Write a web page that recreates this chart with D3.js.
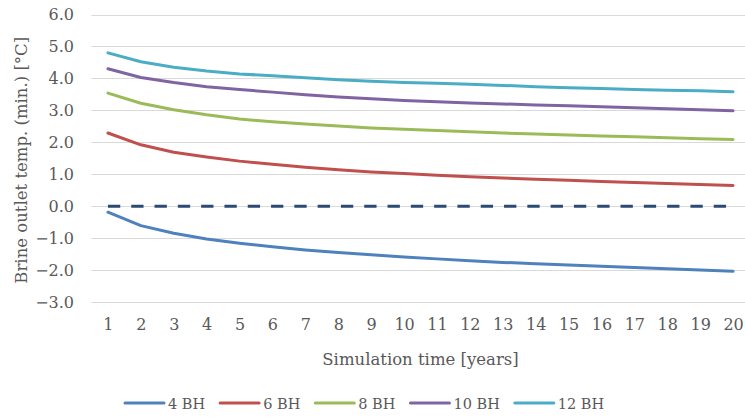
<!DOCTYPE html>
<html>
<head>
<meta charset="utf-8">
<script src="https://cdn.jsdelivr.net/npm/d3@7"></script>
<style>
  html, body { margin: 0; padding: 0; background: #fff; }
  svg { display: block; }
  text { font-family: "DejaVu Serif", "Liberation Serif", serif; fill: #595959; }
</style>
</head>
<body>
<svg id="chart" width="745" height="418"></svg>
<script>
// Simulation years on the category axis
const years = [1, 2, 3, 4, 5, 6, 7, 8, 9, 10, 11, 12, 13, 14, 15, 16, 17, 18, 19, 20];

// Minimum brine outlet temperature [°C] per borehole configuration
const bh4  = [-0.19, -0.61, -0.85, -1.03, -1.16, -1.27, -1.37, -1.45, -1.52, -1.59,
              -1.65, -1.71, -1.76, -1.80, -1.84, -1.88, -1.92, -1.96, -2.00, -2.04];
const bh6  = [2.29, 1.92, 1.69, 1.54, 1.41, 1.31, 1.22, 1.14, 1.07, 1.02,
              0.97, 0.92, 0.88, 0.84, 0.81, 0.77, 0.74, 0.71, 0.68, 0.65];
const bh8  = [3.54, 3.22, 3.02, 2.86, 2.73, 2.64, 2.57, 2.51, 2.45, 2.41,
              2.37, 2.33, 2.29, 2.26, 2.23, 2.20, 2.17, 2.14, 2.11, 2.09];
const bh10 = [4.30, 4.03, 3.87, 3.74, 3.65, 3.57, 3.49, 3.42, 3.36, 3.31,
              3.27, 3.23, 3.20, 3.17, 3.14, 3.11, 3.08, 3.05, 3.02, 2.99];
const bh12 = [4.80, 4.52, 4.35, 4.23, 4.14, 4.08, 4.02, 3.96, 3.91, 3.87,
              3.85, 3.82, 3.78, 3.74, 3.71, 3.68, 3.65, 3.63, 3.61, 3.58];
// Freezing reference line
const freezing = [0, 0, 0, 0, 0, 0, 0, 0, 0, 0, 0, 0, 0, 0, 0, 0, 0, 0, 0, 0];

const seriesNames  = ["4 BH", "6 BH", "8 BH", "10 BH", "12 BH"];
const seriesValues = [bh4, bh6, bh8, bh10, bh12];
const seriesColors = ["#4F81BD", "#C0504D", "#9BBB59", "#8064A2", "#4BACC6"];

const yTicks = [-3, -2, -1, 0, 1, 2, 3, 4, 5, 6];

const svg = d3.select("#chart");
const plot = { left: 91.5, right: 749.5, top: 14.5, bottom: 302 };

const x = d3.scalePoint().domain(years).range([plot.left, plot.right]).padding(0.5);
const y = d3.scaleLinear().domain([-3, 6]).range([plot.bottom, plot.top]);

// Horizontal gridlines
svg.append("g")
  .selectAll("line")
  .data(yTicks)
  .join("line")
  .attr("x1", plot.left)
  .attr("x2", plot.right)
  .attr("y1", d => Math.round(y(d)) + 0.5)
  .attr("y2", d => Math.round(y(d)) + 0.5)
  .attr("stroke", "#D9D9D9")
  .attr("stroke-width", 1);

// Y axis labels
const yAxis = svg.append("g")
  .attr("transform", `translate(${plot.left},0)`)
  .call(d3.axisLeft(y).tickValues(yTicks).tickFormat(d3.format(".1f")).tickSize(0).tickPadding(17.5));
yAxis.select(".domain").remove();
yAxis.selectAll("text")
  .style("font-size", "16px")
  .style("font-family", "'DejaVu Serif', serif")
  .attr("fill", "#595959");

// X axis labels
const xAxis = svg.append("g")
  .attr("transform", `translate(0,${plot.bottom})`)
  .call(d3.axisBottom(x).tickSize(0).tickPadding(16.5));
xAxis.select(".domain").remove();
xAxis.selectAll("text")
  .style("font-size", "16px")
  .style("font-family", "'DejaVu Serif', serif")
  .attr("fill", "#595959");

const line = d3.line()
  .x((d, i) => x(years[i]))
  .y(d => y(d));

// Series lines
svg.append("g")
  .selectAll("path")
  .data(seriesValues)
  .join("path")
  .attr("d", d => line(d))
  .attr("fill", "none")
  .attr("stroke", (d, i) => seriesColors[i])
  .attr("stroke-width", 3)
  .attr("stroke-linejoin", "round")
  .attr("stroke-linecap", "round");

// Dashed zero line
svg.append("path")
  .attr("d", line(freezing))
  .attr("fill", "none")
  .attr("stroke", "#2B4A74")
  .attr("stroke-width", 3)
  .attr("stroke-dasharray", "12.3 11");

// Axis titles
svg.append("text")
  .attr("x", (plot.left + plot.right) / 2)
  .attr("y", 365)
  .attr("text-anchor", "middle")
  .style("font-size", "16.5px")
  .text("Simulation time [years]");

svg.append("text")
  .attr("transform", `translate(27,${(plot.top + plot.bottom) / 2 + 2}) rotate(-90)`)
  .attr("text-anchor", "middle")
  .style("font-size", "16.5px")
  .text("Brine outlet temp. (min.) [°C]");

// Legend
const legend = svg.append("g").attr("transform", "translate(125,403)");
let lx = 0;
seriesNames.forEach((name, i) => {
  const g = legend.append("g").attr("transform", `translate(${lx},0)`);
  g.append("line")
    .attr("x1", 0).attr("x2", 39)
    .attr("y1", 0).attr("y2", 0)
    .attr("stroke", seriesColors[i])
    .attr("stroke-width", 3)
    .attr("stroke-linecap", "round");
  const t = g.append("text")
    .attr("x", 43)
    .attr("y", 5.5)
    .style("font-size", "14.5px")
    .text(name);
  lx += 43 + t.node().getComputedTextLength() + 15;
});
</script>
</body>
</html>
